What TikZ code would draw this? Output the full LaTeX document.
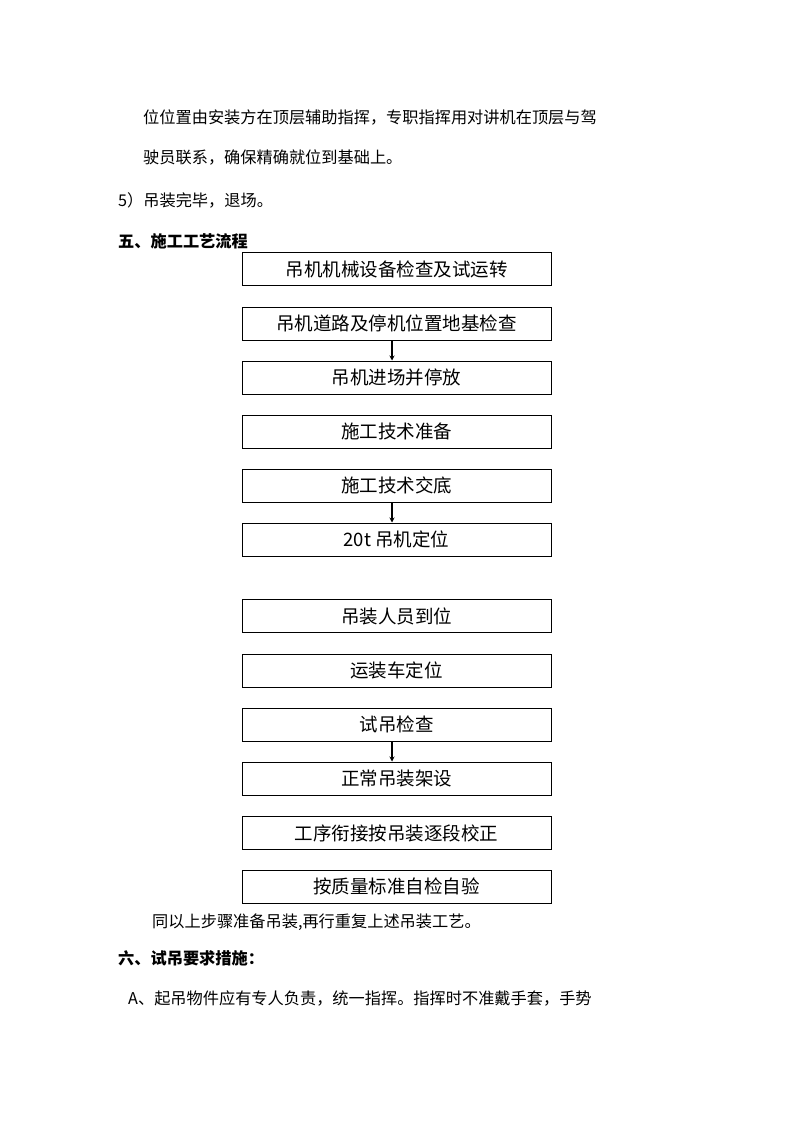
\documentclass[tikz,border=0pt]{standalone}
\usepackage{fontspec}
\newfontfamily\cjk{Noto Sans CJK SC}
\usetikzlibrary{arrows.meta}
\begin{document}
\begin{tikzpicture}[x=1pt,y=-1pt,
  stepbox/.style={draw,line width=1pt,minimum width=309pt,minimum height=33pt,inner sep=0pt,
    font=\cjk\fontsize{18.5pt}{18.5pt}\selectfont},
  para/.style={anchor=west,inner sep=0pt,font=\cjk\fontsize{16.2pt}{16.2pt}\selectfont},
  head/.style={para,font=\cjk\bfseries\fontsize{16.2pt}{16.2pt}\selectfont},
  arr/.style={line width=1.4pt,-{Stealth[length=5pt,width=5pt]}}]
\useasboundingbox (0,0) rectangle (794,1123);
\node[para] (t1) at (143,118) {位位置由安装方在顶层辅助指挥，专职指挥用对讲机在顶层与驾};
\node[para] (t2) at (143,158) {驶员联系，确保精确就位到基础上。};
\node[para] (t3) at (118,200) {5）吊装完毕，退场。};
\node[head] (h5) at (118,241) {五、施工工艺流程};
\node[stepbox] (b1) at (396.5,269) {吊机机械设备检查及试运转};
\node[stepbox] (b2) at (396.5,323.5) {吊机道路及停机位置地基检查};
\node[stepbox] (b3) at (396.5,377.5) {吊机进场并停放};
\node[stepbox] (b4) at (396.5,431.5) {施工技术准备};
\node[stepbox] (b5) at (396.5,485.5) {施工技术交底};
\node[stepbox] (b6) at (396.5,539.5) {20t 吊机定位};
\node[stepbox] (b7) at (396.5,616) {吊装人员到位};
\node[stepbox] (b8) at (396.5,670.5) {运装车定位};
\node[stepbox] (b9) at (396.5,724.5) {试吊检查};
\node[stepbox] (b10) at (396.5,778.5) {正常吊装架设};
\node[stepbox] (b11) at (396.5,833) {工序衔接按吊装逐段校正};
\node[stepbox] (b12) at (396.5,886.5) {按质量标准自检自验};
\draw[arr] ([xshift=-4.5pt]b2.south) -- ([xshift=-4.5pt]b3.north);
\draw[arr] ([xshift=-4.5pt]b5.south) -- ([xshift=-4.5pt]b6.north);
\draw[arr] ([xshift=-4.5pt]b9.south) -- ([xshift=-4.5pt]b10.north);
\node[para] (t4) at (152,922) {同以上步骤准备吊装,再行重复上述吊装工艺。};
\node[head] (h6) at (118,958) {六、试吊要求措施：};
\node[para] (t5) at (128,998) {A、起吊物件应有专人负责，统一指挥。指挥时不准戴手套，手势};
\end{tikzpicture}
\end{document}
